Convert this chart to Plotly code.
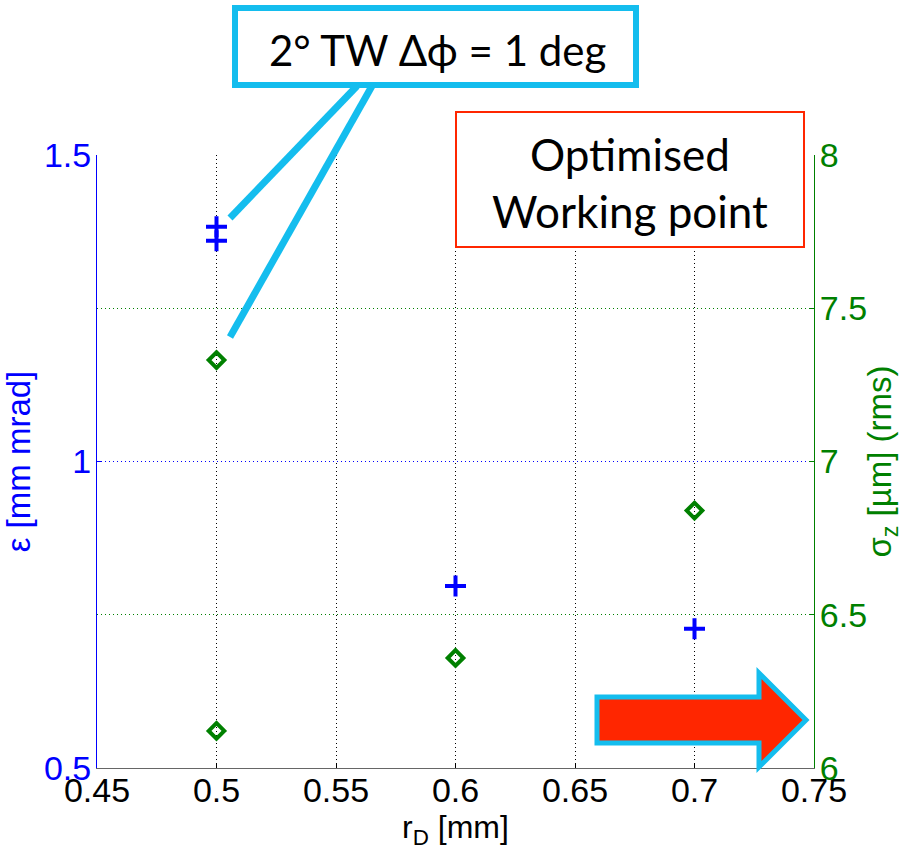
import plotly.graph_objects as go

# Data
r_D_eps = [0.5, 0.5, 0.6, 0.7]
emittance = [1.383, 1.360, 0.797, 0.727]
r_D_sig = [0.5, 0.5, 0.6, 0.7]
sigma_z = [7.331, 6.121, 6.359, 6.840]

x_ticks = [0.45, 0.5, 0.55, 0.6, 0.65, 0.7, 0.75]
x_tick_text = ["0.45", "0.5", "0.55", "0.6", "0.65", "0.7", "0.75"]
y1_ticks = [0.5, 1.0, 1.5]
y1_tick_text = ["0.5", "1", "1.5"]
y2_ticks = [6, 6.5, 7, 7.5, 8]
y2_tick_text = ["6", "6.5", "7", "7.5", "8"]

BLUE = "#0000FF"
GREEN = "#008000"
CYAN = "#14BDEE"
RED = "#FF2600"

W, H = 903, 852
L, R, T, B = 97, 89, 155, 84
PW, PH = W - L - R, H - T - B

def px(x):
    return (x - L) / PW

def py(y):
    return (H - B - y) / PH

FONT = "Liberation Sans, Arial"
TICK = 34
DOTS = "1px,3px"

fig = go.Figure()
# green sigma_z on base axis (right side), blue emittance on overlaid axis (left)
fig.add_trace(go.Scatter(
    x=r_D_sig, y=sigma_z, mode="markers", yaxis="y",
    marker=dict(symbol="diamond-open", size=12, color=GREEN,
                line=dict(color=GREEN, width=4)),
    showlegend=False))
fig.add_trace(go.Scatter(
    x=r_D_eps, y=emittance, mode="markers", yaxis="y2",
    marker=dict(symbol="cross-thin", size=15, color=BLUE,
                line=dict(color=BLUE, width=4)),
    showlegend=False))

fig.update_layout(
    width=W, height=H,
    margin=dict(l=L, r=R, t=T, b=B),
    paper_bgcolor="white", plot_bgcolor="white",
    xaxis=dict(range=[0.45, 0.75], tickvals=x_ticks, ticktext=x_tick_text,
               tickfont=dict(family=FONT, size=TICK, color="black"),
               showgrid=True, gridcolor="black", griddash=DOTS, gridwidth=1,
               showline=True, linecolor="#666666", linewidth=1,
               ticks="inside", ticklen=5, tickcolor="black",
               zeroline=False, ticklabelstandoff=-8,
               title=dict(text="r<sub>D</sub> [mm]", font=dict(family=FONT, size=32, color="black"), standoff=0)),
    yaxis=dict(range=[6, 8], tickvals=y2_ticks, ticktext=y2_tick_text,
               side="right",
               tickfont=dict(family=FONT, size=TICK, color=GREEN),
               showgrid=True, gridcolor=GREEN, griddash=DOTS, gridwidth=1,
               showline=True, linecolor=GREEN, linewidth=1,
               ticks="inside", ticklen=5, tickcolor=GREEN,
               zeroline=False, ticklabelstandoff=-2,
               title=dict(text="σ<sub>z</sub> [µm] (rms)", font=dict(family=FONT, size=33, color=GREEN), standoff=2)),
    yaxis2=dict(range=[0.5, 1.5], tickvals=y1_ticks, ticktext=y1_tick_text,
                overlaying="y", side="left",
                tickfont=dict(family=FONT, size=TICK, color=BLUE),
                showgrid=True, gridcolor=BLUE, griddash=DOTS, gridwidth=1,
                showline=True, linecolor=BLUE, linewidth=1,
                ticks="inside", ticklen=5, tickcolor=BLUE,
                zeroline=False, ticklabelstandoff=-2,
                title=dict(text="ε [mm mrad]", font=dict(family=FONT, size=33, color=BLUE), standoff=6)),
)

shapes = []
# callout lines
shapes.append(dict(type="line", xref="paper", yref="paper",
                   x0=px(357), y0=py(86), x1=px(230), y1=py(218),
                   line=dict(color=CYAN, width=7)))
shapes.append(dict(type="line", xref="paper", yref="paper",
                   x0=px(372), y0=py(86), x1=px(230), y1=py(337),
                   line=dict(color=CYAN, width=7)))
# callout box
shapes.append(dict(type="rect", xref="paper", yref="paper",
                   x0=px(235), y0=py(85), x1=px(636), y1=py(8),
                   line=dict(color=CYAN, width=6), fillcolor="white"))
# optimised box
shapes.append(dict(type="rect", xref="paper", yref="paper",
                   x0=px(456), y0=py(247), x1=px(804), y1=py(112),
                   line=dict(color=RED, width=2), fillcolor="white"))
# arrow
pts = [(597, 697), (759, 697), (759, 673), (806, 720), (759, 767), (759, 743), (597, 743)]
path = "M " + " L ".join(f"{px(a):.5f},{py(b):.5f}" for a, b in pts) + " Z"
shapes.append(dict(type="path", xref="paper", yref="paper", path=path,
                   fillcolor=RED, line=dict(color=CYAN, width=5)))
fig.update_layout(shapes=shapes)

fig.add_annotation(xref="paper", yref="paper", x=px(437), y=py(50),
                   xanchor="center", yanchor="middle",
                   text="2° TW Δϕ = 1 deg", showarrow=False,
                   font=dict(family="Lato, Open Sans", size=42, color="black"))
fig.add_annotation(xref="paper", yref="paper", x=px(630), y=py(182),
                   xanchor="center", yanchor="middle",
                   text="Optimised<br>Working point", showarrow=False,
                   font=dict(family="Lato, Open Sans", size=44, color="black"))

fig.write_html("out.html")
